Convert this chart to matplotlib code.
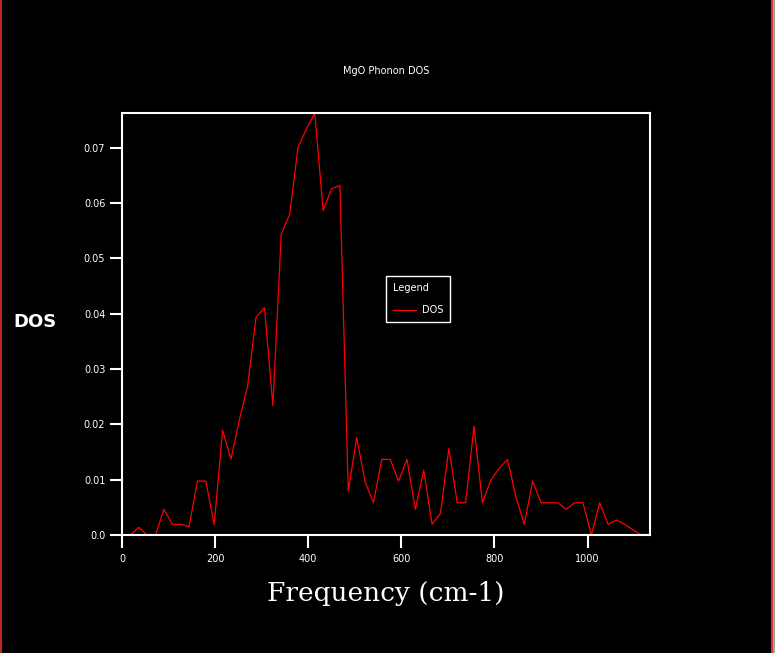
import matplotlib
matplotlib.use("Agg")
import matplotlib.pyplot as plt
from matplotlib.lines import Line2D

# frequency grid (cm-1) and DOS values
freq = [0, 18, 36, 54, 72, 90, 108, 126, 144, 162,
        180, 198, 216, 234, 252, 270, 288, 306, 324, 342,
        360, 378, 396, 414, 432, 450, 468, 486, 504, 522,
        540, 558, 576, 594, 612, 630, 648, 666, 684, 702,
        720, 738, 756, 774, 792, 810, 828, 846, 864, 882,
        900, 918, 936, 954, 972, 990, 1008, 1026, 1044, 1062,
        1080, 1098, 1116, 1134]
dos = [0.0, 0.0, 0.00139, 0.0, 0.0, 0.00464, 0.00193, 0.00193, 0.0015, 0.00974,
       0.00974, 0.00186, 0.01894, 0.01371, 0.02075, 0.02706, 0.03938, 0.04108, 0.0234, 0.05443,
       0.05791, 0.07005, 0.07337, 0.07626, 0.05863, 0.06255, 0.06314, 0.00794, 0.01763, 0.00962,
       0.00583, 0.01366, 0.01366, 0.00974, 0.01366, 0.00464, 0.01173, 0.00193, 0.00391, 0.01564,
       0.00583, 0.00583, 0.01966, 0.00583, 0.00992, 0.01203, 0.01366, 0.00691, 0.00193, 0.00974,
       0.00583, 0.00583, 0.00583, 0.00464, 0.00583, 0.00583, 0.0, 0.00583, 0.00193, 0.0027,
       0.00193, 0.0009, 0.0, 0.0]

xticks = [0, 200, 400, 600, 800, 1000]
yticks = [0.0, 0.01, 0.02, 0.03, 0.04, 0.05, 0.06, 0.07]
ytick_labels = ["0.0", "0.01", "0.02", "0.03", "0.04", "0.05", "0.06", "0.07"]

W, H = 775, 653
fig = plt.figure(figsize=(W / 100, H / 100), dpi=100, facecolor="black")
ax = fig.add_axes([122 / W, 1 - 535 / H, (650 - 122) / W, (535 - 113) / H])
ax.set_facecolor("black")

ax.plot(freq, dos, color="red", lw=0.9, label="DOS")
ax.set_xlim(0, max(freq))
ax.set_ylim(0, max(dos))

for s in ax.spines.values():
    s.set_color("white")
    s.set_linewidth(1.5)

ax.set_xticks(xticks)
ax.set_yticks(yticks)
ax.set_yticklabels(ytick_labels)
ax.tick_params(axis="both", colors="white", direction="out", length=9, width=1.5, labelsize=7)
ax.tick_params(axis="y", pad=3)
ax.tick_params(axis="x", pad=5)

ax.set_title("MgO Phonon DOS", color="white", fontsize=7, pad=28)
ax.set_xlabel("Frequency (cm-1)", color="white", fontsize=19, family="DejaVu Serif", labelpad=12)
fig.text(35 / W, 1 - 322 / H, "DOS", color="white", fontsize=13, fontweight="bold",
         ha="center", va="center")

leg = ax.legend(loc="upper left", bbox_to_anchor=(386 / W, 1 - 276 / H),
                bbox_transform=fig.transFigure, borderaxespad=0,
                title="Legend", alignment="left",
                fontsize=7, title_fontsize=7, frameon=True, fancybox=False,
                facecolor="black", edgecolor="white", framealpha=1,
                labelcolor="white", handlelength=2.4, handletextpad=0.6,
                labelspacing=1.3, borderpad=0.7)
leg.get_title().set_color("white")
leg.get_frame().set_linewidth(1.0)

# window border lines
fig.add_artist(Line2D([0.5 / W, 0.5 / W], [0, 1], color="#e03030", lw=1.2))
fig.add_artist(Line2D([772 / W, 772 / W], [0, 1], color="#e03030", lw=1.5))
fig.add_artist(Line2D([774 / W, 774 / W], [0, 1], color="#a0a0a0", lw=1.5))

fig.savefig("out.png", dpi=100, facecolor="black")
